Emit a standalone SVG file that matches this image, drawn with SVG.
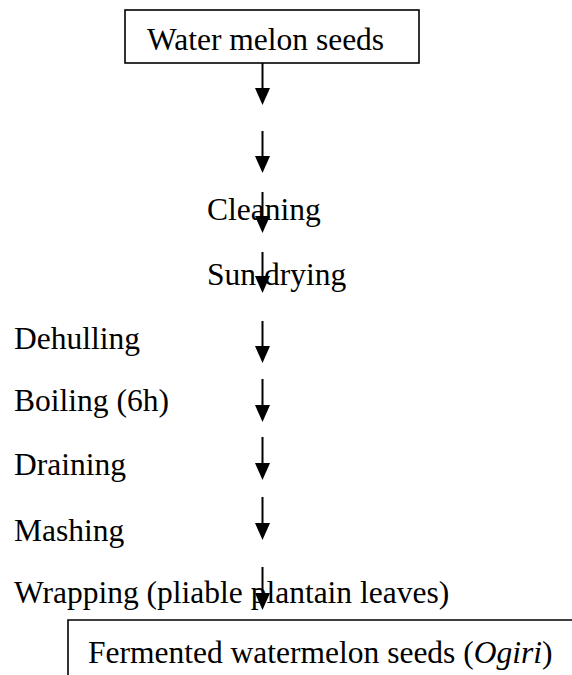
<svg xmlns="http://www.w3.org/2000/svg" width="572" height="675" viewBox="0 0 572 675">
<defs>
<marker id="ah" markerUnits="userSpaceOnUse" markerWidth="16" markerHeight="18" viewBox="0 0 16 18" refX="8" refY="17" orient="auto-start-reverse">
<path d="M0,0 L16,0 L8,17 Z" fill="#000" transform="rotate(0)"/>
</marker>
<style>
text{font-family:"Liberation Serif","Times New Roman",serif;font-size:31.5px;fill:#000}
.box{fill:none;stroke:#000;stroke-width:1.6}
.arr{stroke:#000;stroke-width:2;fill:none}
</style>
</defs>
<rect width="572" height="675" fill="#fff"/>
<g id="n-start">
<rect class="box" x="125" y="10" width="294" height="53"/>
<text x="147" y="50">Water melon seeds</text>
</g>
<g id="n-cleaning"><text x="207" y="220">Cleaning</text></g>
<g id="n-sundrying"><text x="207" y="285">Sun drying</text></g>
<g id="n-dehulling"><text x="14" y="349">Dehulling</text></g>
<g id="n-boiling"><text x="14" y="411">Boiling (6h)</text></g>
<g id="n-draining"><text x="14" y="475">Draining</text></g>
<g id="n-mashing"><text x="14" y="541">Mashing</text></g>
<g id="n-wrapping"><text x="14" y="603">Wrapping (pliable plantain leaves)</text></g>
<g id="n-end">
<path class="box" d="M68,675 V620 H572"/>
<text x="88" y="663">Fermented watermelon seeds (<tspan font-style="italic">Ogiri</tspan>)</text>
</g>
<g id="connectors" fill="#000">
<g class="arr">
<line x1="262.5" y1="63" x2="262.5" y2="90"/>
<line x1="262.5" y1="131" x2="262.5" y2="158"/>
<line x1="262.5" y1="192" x2="262.5" y2="218"/>
<line x1="262.5" y1="252" x2="262.5" y2="278"/>
<line x1="262.5" y1="321" x2="262.5" y2="348"/>
<line x1="262.5" y1="379" x2="262.5" y2="407"/>
<line x1="262.5" y1="437" x2="262.5" y2="465"/>
<line x1="262.5" y1="497" x2="262.5" y2="525"/>
<line x1="262.5" y1="567" x2="262.5" y2="595"/>
</g>
<path d="M255,88 H270 L262.5,105 Z"/>
<path d="M255,156 H270 L262.5,173 Z"/>
<path d="M255,216 H270 L262.5,233 Z"/>
<path d="M255,276 H270 L262.5,293 Z"/>
<path d="M255,346 H270 L262.5,363 Z"/>
<path d="M255,405 H270 L262.5,422 Z"/>
<path d="M255,463 H270 L262.5,480 Z"/>
<path d="M255,523 H270 L262.5,540 Z"/>
<path d="M255,593 H270 L262.5,610 Z"/>
</g>
</svg>
